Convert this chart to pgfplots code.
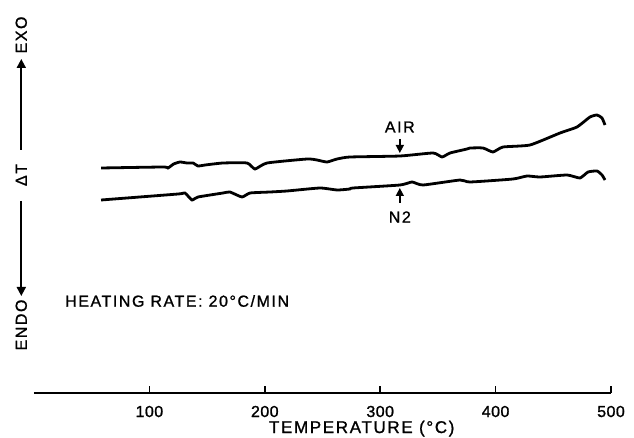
\documentclass[border=0pt]{standalone}
\usepackage{fontspec}
\setmainfont{Liberation Sans}[LetterSpace=10, FakeBold=1.2]
\usepackage{pgfplots}
\pgfplotsset{compat=1.18}
\usetikzlibrary{arrows.meta}
\begin{document}
\begin{tikzpicture}
\begin{axis}[
  scale only axis, width=577bp, height=393bp,
  xmin=0, xmax=500, ymin=0, ymax=393,
  axis x line=bottom, axis y line=none,
  x axis line style={-, line width=1.8bp},
  xtick={100,200,300,400,500},
  xtick align=inside, major tick length=7bp,
  tick style={line width=1.5bp, black},
  /pgf/number format/assume math mode=true,
  xticklabel style={font=\fontsize{16}{16}\selectfont\addfontfeature{LetterSpace=3}, anchor=base, yshift=-24bp},
  xlabel={TEMPERATURE (°C)},
  every axis x label/.style={at={(axis cs:284,0)}, anchor=base, yshift=-40bp, font=\fontsize{17}{17}\selectfont},
  clip=false,
]
\addplot[black, line width=2.8bp, smooth, tension=0.3] coordinates {
(58.1,225) (112,226) (116.1,225) (121,229) (126.5,231) (132.6,230) (137.8,230) (142.1,227) (148.2,228) (163.8,230) (184.6,230) (191.5,224) (201.9,230) (236.6,234) (245.2,233) (253.9,231) (262.6,234) (273.8,236) (317.2,237) (345.8,240) (353.6,236) (360.5,240) (375.2,244) (377.8,245) (389.1,245) (397.7,241) (406.4,246) (429.8,248) (455.8,260) (470.5,266) (481.8,276) (487.9,278) (492.2,275) (494.8,268)
};
\addplot[black, line width=2.8bp, smooth, tension=0.3] coordinates {
(58.1,193) (124.8,199) (130.8,200) (136.9,193) (142.1,196) (163.8,200) (169.8,201) (180.2,196) (187.2,200) (204.5,201) (219.2,202) (247.8,205) (262.6,203) (273.8,204) (276.4,205) (317.2,208) (327.6,211) (337.1,208) (369.2,213) (377.8,211) (415.1,214) (427.2,217) (438.5,216) (461.9,218) (473.1,215) (480.1,221) (487.9,222) (492.2,218) (494.8,213)
};
% annotations
\draw[line width=1.5bp, -{Triangle[width=8bp,length=8bp]}] (axis cs:317,254) -- (axis cs:317,240);
\node[font=\fontsize{16}{16}\selectfont] at (axis cs:317,266) {AIR};
\draw[line width=1.5bp, -{Triangle[width=8bp,length=8bp]}] (axis cs:317,190) -- (axis cs:317,205);
\node[font=\fontsize{16}{16}\selectfont] at (axis cs:317,176) {N2};
\node[font=\fontsize{16}{16}\selectfont, anchor=west] at (axis cs:24,92) {HEATING RATE: 20°C/MIN};
% y description
\node[font=\fontsize{16}{16}\selectfont, rotate=90] at (axis cs:-11,358) {EXO};
\draw[line width=1.8bp, -{Triangle[width=9bp,length=9bp]}] (axis cs:-11,243) -- (axis cs:-11,334);
\node[font=\fontsize{16}{16}\selectfont, rotate=90] at (axis cs:-11,218) {ΔT};
\draw[line width=1.8bp, -{Triangle[width=9bp,length=9bp]}] (axis cs:-11,192) -- (axis cs:-11,97);
\node[font=\fontsize{16}{16}\selectfont, rotate=90] at (axis cs:-11,68) {ENDO};
\end{axis}
\pgfresetboundingbox
\useasboundingbox (-34bp,-45bp) rectangle (600bp,393bp);
\end{tikzpicture}
\end{document}
